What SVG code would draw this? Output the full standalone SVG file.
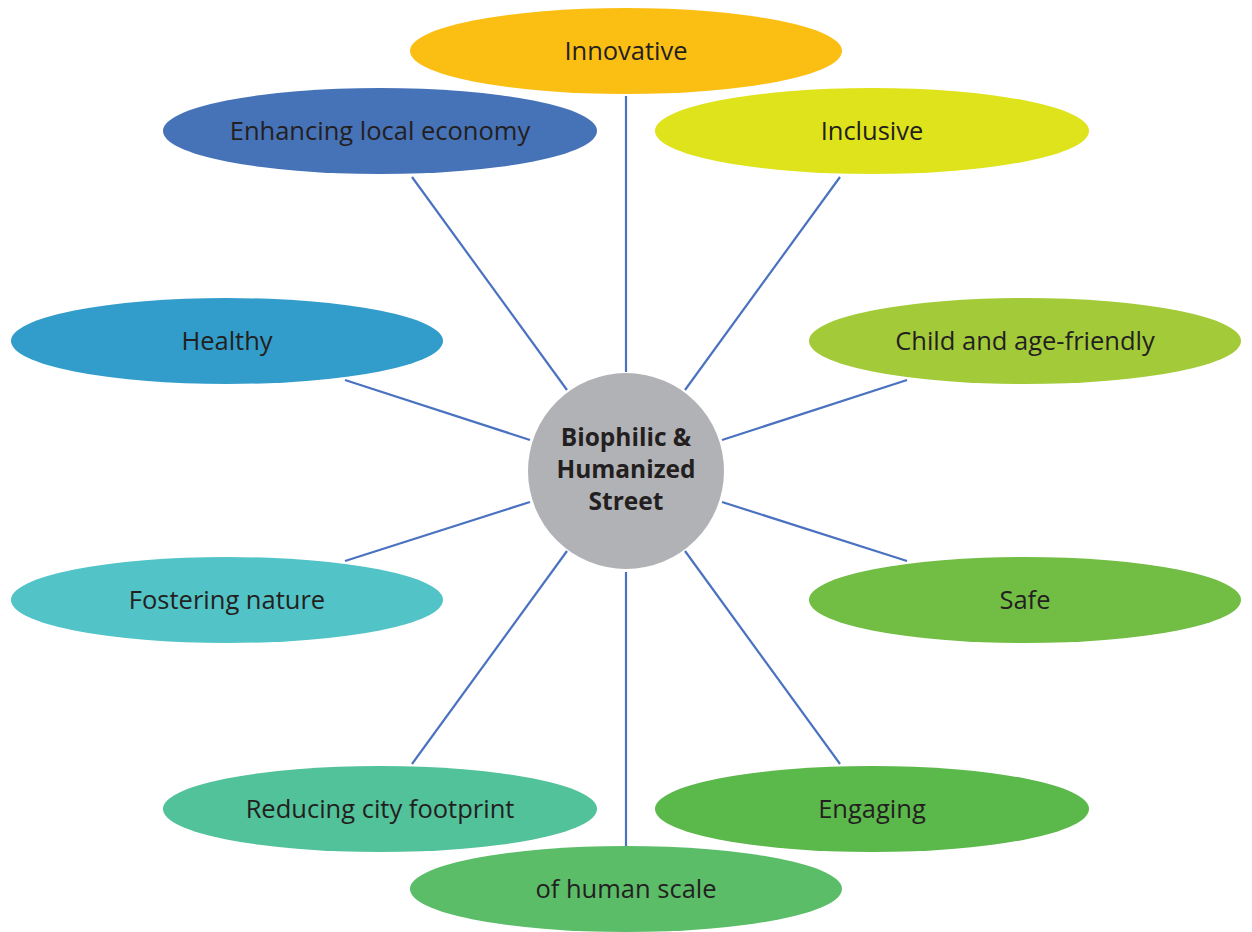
<svg xmlns="http://www.w3.org/2000/svg" width="1252" height="932" viewBox="0 0 1252 932">
<style>
.lbl{font-family:"Open Sans","Liberation Sans",sans-serif;font-size:25.5px;fill:#231f20;text-anchor:middle}
.ctr{font-family:"Open Sans","Liberation Sans",sans-serif;font-size:24.5px;font-weight:bold;fill:#231f20;text-anchor:middle}
.con line{stroke:#4a72c0;stroke-width:2.2}
</style>
<rect width="1252" height="932" fill="#ffffff"/>
<g id="connectors" class="con">
<line x1="626" y1="96" x2="626" y2="372"/>
<line x1="626" y1="572" x2="626" y2="846"/>
<line x1="412" y1="177" x2="567" y2="390"/>
<line x1="840" y1="177" x2="685" y2="390"/>
<line x1="345" y1="380" x2="530" y2="440"/>
<line x1="907" y1="380" x2="722" y2="440"/>
<line x1="345" y1="561" x2="530" y2="502"/>
<line x1="907" y1="561" x2="722" y2="502"/>
<line x1="412" y1="764" x2="567" y2="551"/>
<line x1="840" y1="764" x2="685" y2="551"/>
</g>
<g id="innovative"><ellipse cx="626" cy="51" rx="216" ry="43" fill="#fbbf14"/><text class="lbl" x="626" y="60">Innovative</text></g>
<g id="enhancing"><ellipse cx="380" cy="131" rx="217" ry="43" fill="#4672b8"/><text class="lbl" x="380" y="140">Enhancing local economy</text></g>
<g id="inclusive"><ellipse cx="872" cy="131" rx="217" ry="43" fill="#dfe31b"/><text class="lbl" x="872" y="140">Inclusive</text></g>
<g id="healthy"><ellipse cx="227" cy="341" rx="216" ry="43" fill="#329dcb"/><text class="lbl" x="227" y="350">Healthy</text></g>
<g id="child"><ellipse cx="1025" cy="341" rx="216" ry="43" fill="#a3cb39"/><text class="lbl" x="1025" y="350">Child and age-friendly</text></g>
<g id="fostering"><ellipse cx="227" cy="600" rx="216" ry="43" fill="#52c3c6"/><text class="lbl" x="227" y="609">Fostering nature</text></g>
<g id="safe"><ellipse cx="1025" cy="600" rx="216" ry="43" fill="#72be45"/><text class="lbl" x="1025" y="609">Safe</text></g>
<g id="reducing"><ellipse cx="380" cy="809" rx="217" ry="43" fill="#52c29a"/><text class="lbl" x="380" y="818">Reducing city footprint</text></g>
<g id="engaging"><ellipse cx="872" cy="809" rx="217" ry="43" fill="#5bb84a"/><text class="lbl" x="872" y="818">Engaging</text></g>
<g id="humanscale"><ellipse cx="626" cy="889" rx="216" ry="43" fill="#5bbd68"/><text class="lbl" x="626" y="898">of human scale</text></g>
<g id="center"><circle cx="626" cy="471" r="98" fill="#b1b2b6"/>
<text class="ctr" x="626" y="446">Biophilic &amp;</text>
<text class="ctr" x="626" y="478">Humanized</text>
<text class="ctr" x="626" y="510">Street</text></g>
</svg>
